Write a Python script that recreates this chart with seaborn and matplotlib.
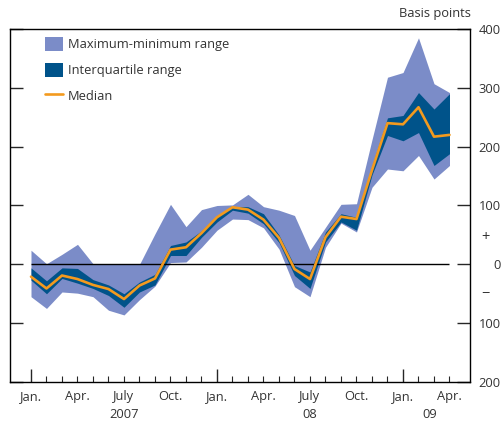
import seaborn as sns
import matplotlib.pyplot as plt
from matplotlib.patches import Patch
from matplotlib.lines import Line2D
import pandas as pd

# months from Jan 2007 (0) to Apr 2009 (27)
months = list(range(28))
max_vals = [24, 1, 17, 34, 1, 0, 0, 0, 52, 102, 64, 93, 100, 101, 119, 98,
            92, 83, 24, 63, 102, 103, 212, 318, 326, 385, 307, 292]
q3_vals = [-6, -28, -6, -7, -26, -35, -50, -30, -17, 32, 38, 57, 83, 98, 98, 86,
           50, -2, -13, 55, 86, 80, 168, 249, 253, 292, 264, 290]
median_vals = [-21, -41, -19, -25, -35, -42, -59, -36, -24, 25, 29, 53, 80, 97, 93, 76,
               45, -8, -25, 46, 81, 77, 160, 240, 238, 267, 217, 220]
q1_vals = [-27, -50, -24, -32, -41, -53, -73, -47, -35, 15, 15, 46, 72, 92, 87, 69,
           37, -19, -41, 38, 72, 58, 152, 219, 210, 224, 168, 188]
min_vals = [-55, -75, -47, -49, -55, -78, -86, -60, -37, 3, 4, 29, 58, 77, 76, 62,
            26, -38, -55, 29, 70, 55, 131, 162, 159, 185, 145, 168]

month_labels = ['Jan.', 'Apr.', 'July', 'Oct.'] * 3
month_label_pos = list(range(0, 28, 3))
year_labels = ['2007', '08', '09']
year_label_pos = [6, 18, 25.7]
ytick_vals = [-200, -100, 0, 100, 200, 300, 400]
ytick_labels = ['200', '100', '0', '100', '200', '300', '400']

df = pd.DataFrame({'month': months, 'max': max_vals, 'q3': q3_vals,
                   'median': median_vals, 'q1': q1_vals, 'min': min_vals})

light = '#7b8cc8'
dark = '#00538a'
orange = '#f39a1e'
txt = '#333333'
fs = 9.3

sns.set_style('ticks')
plt.rcParams['font.family'] = ['Open Sans', 'DejaVu Sans']

fig = plt.figure(figsize=(5.01, 4.23), dpi=100)
ax = fig.add_axes([10 / 501, 1 - 382 / 423, 460 / 501, 353 / 423])

ax.fill_between(df['month'], df['min'], df['max'], color=light, lw=0)
ax.fill_between(df['month'], df['q1'], df['q3'], color=dark, lw=0)
ax.hlines(0, 0, 27, color='black', lw=1)
sns.lineplot(data=df, x='month', y='median', ax=ax, color=orange, lw=1.9)

ax.set_xlim(-21 / 15.5, 439 / 15.5)
ax.set_ylim(-200, 400)
ax.set_xlabel('')
ax.set_ylabel('')

# y axis: labels on the right, ticks inside on both sides
ax.set_yticks(ytick_vals)
ax.set_yticklabels(ytick_labels)
ax.tick_params(axis='y', left=True, right=True, labelleft=False, labelright=True,
               direction='in', length=9.4, width=1, pad=22, labelsize=fs, labelcolor=txt)
for lab in ax.get_yticklabels():
    lab.set_ha('right')
ax.text(1.033, 45, '+', transform=ax.get_yaxis_transform(), ha='center', va='center',
        fontsize=10.5, color=txt)
ax.text(1.033, -52, '\u2212', transform=ax.get_yaxis_transform(), ha='center', va='center',
        fontsize=10.5, color=txt)

# x axis: long ticks at January, short ticks each month
ax.set_xticks([0, 12, 24])
ax.set_xticks(months, minor=True)
ax.tick_params(axis='x', which='major', direction='in', length=9.4, width=1, labelbottom=False)
ax.tick_params(axis='x', which='minor', direction='in', length=4.5, width=0.8)
xt = ax.get_xaxis_transform()
for pos, lab in zip(month_label_pos, month_labels):
    ax.text(pos, -0.04, lab, transform=xt, ha='center', va='center', fontsize=fs, color=txt)
for pos, lab in zip(year_label_pos, year_labels):
    ax.text(pos, -0.093, lab, transform=xt, ha='center', va='center', fontsize=fs, color=txt)

for s in ax.spines.values():
    s.set_visible(True)
    s.set_color('black')
    s.set_linewidth(1)

fig.text(471 / 501, 1 - 14 / 423, 'Basis points', ha='right', va='center', fontsize=fs, color=txt)

handles = [Patch(facecolor=light, edgecolor='none', label='Maximum-minimum range'),
           Patch(facecolor=dark, edgecolor='none', label='Interquartile range'),
           Line2D([], [], color=orange, lw=1.9, label='Median')]
ax.legend(handles=handles, loc='upper left', bbox_to_anchor=(0.076, 0.978), frameon=False,
          borderpad=0, borderaxespad=0, handlelength=1.4, handleheight=1.35,
          handletextpad=0.4, labelspacing=0.88, fontsize=fs, labelcolor=txt)

plt.savefig('out.png', dpi=100)
